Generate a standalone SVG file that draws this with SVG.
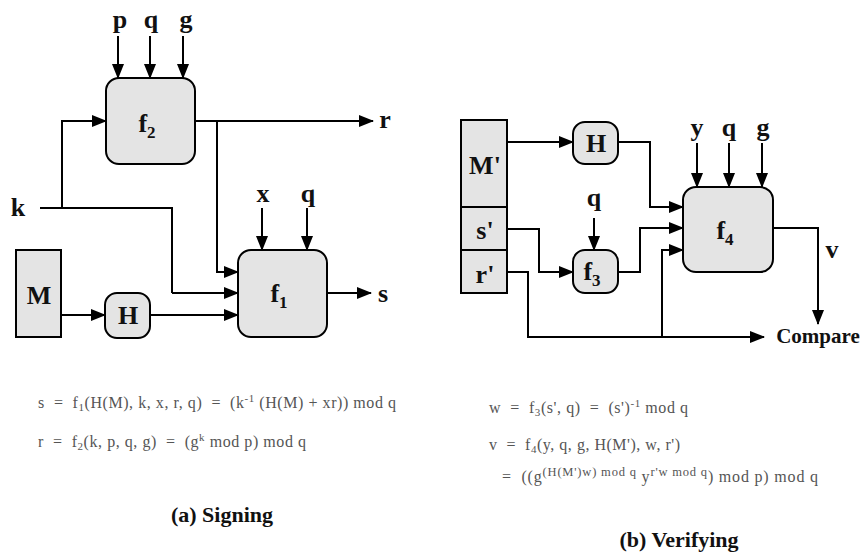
<svg xmlns="http://www.w3.org/2000/svg" width="864" height="552" viewBox="0 0 864 552">
<defs>
<marker id="ah" markerUnits="userSpaceOnUse" markerWidth="15" markerHeight="12" refX="14" refY="6" orient="auto">
<path d="M0,0 L15,6 L0,12 Z" fill="#000"/>
</marker>
<style>
.box{fill:#e4e4e4;stroke:#000;stroke-width:2}
.ln{fill:none;stroke:#000;stroke-width:2}
.ar{fill:none;stroke:#000;stroke-width:2;marker-end:url(#ah)}
.lb{font-family:"Liberation Serif","Times New Roman",serif;font-weight:bold;font-size:26px;fill:#111;text-anchor:middle}
.sb{font-size:17px}
.fm{font-family:"Liberation Serif","Times New Roman",serif;font-size:16px;fill:#555}
.fs{font-size:11px}
.fs2{font-size:12.5px}
.cap{font-family:"Liberation Serif","Times New Roman",serif;font-weight:bold;font-size:22px;fill:#111;text-anchor:middle}
</style>
</defs>
<rect width="864" height="552" fill="#fff"/>

<!-- (a) Signing -->
<g id="f2"><rect class="box" x="106" y="78" width="89" height="86" rx="13"/><text class="lb" x="147" y="132">f<tspan class="sb" dy="6">2</tspan></text></g>
<g id="f1"><rect class="box" x="238" y="250" width="89" height="87" rx="13"/><text class="lb" x="279" y="302">f<tspan class="sb" dy="6">1</tspan></text></g>
<g id="M"><rect class="box" x="16" y="250" width="45" height="87"/><text class="lb" x="39" y="304">M</text></g>
<g id="H1"><rect class="box" x="105" y="293" width="45" height="45" rx="12"/><text class="lb" x="128" y="324">H</text></g>

<g id="labels-a">
<text class="lb" x="120" y="28">p</text>
<text class="lb" x="151" y="28">q</text>
<text class="lb" x="186" y="28">g</text>
<text class="lb" x="18" y="216">k</text>
<text class="lb" x="385" y="128">r</text>
<text class="lb" x="263" y="202">x</text>
<text class="lb" x="308" y="202">q</text>
<text class="lb" x="383" y="302">s</text>
</g>

<g id="connectors">
<path class="ar" d="M118,36 V78"/>
<path class="ar" d="M150,36 V78"/>
<path class="ar" d="M183,36 V78"/>
<path class="ln" d="M40,208 H172 V293"/>
<path class="ar" d="M172,293 H238"/>
<path class="ar" d="M62,208 V121 H106"/>
<path class="ar" d="M195,121 H373"/>
<path class="ar" d="M217,121 V272 H238"/>
<path class="ar" d="M262,208 V250"/>
<path class="ar" d="M307,208 V250"/>
<path class="ar" d="M327,293 H371"/>
<path class="ar" d="M61,315 H105"/>
<path class="ar" d="M150,315 H238"/>

<!-- (b) -->
<path class="ar" d="M507,142 H573"/>
<path class="ar" d="M618,142 H650 V207 H683"/>
<path class="ar" d="M697,143 V187"/>
<path class="ar" d="M729,143 V187"/>
<path class="ar" d="M762,143 V187"/>
<path class="ar" d="M594,218 V250"/>
<path class="ar" d="M507,229 H539 V272 H573"/>
<path class="ar" d="M618,272 H640 V228 H683"/>
<path class="ar" d="M507,272 H528 V337 H764"/>
<path class="ar" d="M662,337 V250 H683"/>
<path class="ar" d="M773,228 H818 V324"/>
</g>

<!-- (b) Verifying -->
<g id="Mp"><rect class="box" x="461" y="120" width="46" height="173"/><line class="ln" x1="461" y1="207" x2="507" y2="207"/><line class="ln" x1="461" y1="250" x2="507" y2="250"/>
<text class="lb" x="485" y="174">M'</text><text class="lb" x="485" y="239">s'</text><text class="lb" x="485" y="283">r'</text></g>
<g id="H2"><rect class="box" x="573" y="122" width="45" height="42" rx="12"/><text class="lb" x="596" y="152">H</text></g>
<g id="f3"><rect class="box" x="573" y="250" width="45" height="43" rx="12"/><text class="lb" x="592" y="280">f<tspan class="sb" dy="6">3</tspan></text></g>
<g id="f4"><rect class="box" x="683" y="187" width="90" height="85" rx="13"/><text class="lb" x="725" y="239">f<tspan class="sb" dy="6">4</tspan></text></g>

<g id="labels-b">
<text class="lb" x="697" y="136">y</text>
<text class="lb" x="729" y="136">q</text>
<text class="lb" x="763" y="136">g</text>
<text class="lb" x="594" y="206">q</text>
<text class="lb" x="832" y="258">v</text>
<text class="lb" x="818" y="343" style="font-size:21px">Compare</text>
</g>

<g id="formulas">
<text class="fm" x="38" y="408" textLength="358" lengthAdjust="spacing" xml:space="preserve">s  =  f<tspan class="fs" dy="3">1</tspan><tspan dy="-3">(H(M), k, x, r, q)  =  (k</tspan><tspan class="fs" dy="-6">-1</tspan><tspan dy="6"> (H(M) + xr)) mod q</tspan></text>
<text class="fm" x="38" y="447" textLength="268" lengthAdjust="spacing" xml:space="preserve">r  =  f<tspan class="fs" dy="3">2</tspan><tspan dy="-3">(k, p, q, g)  =  (g</tspan><tspan class="fs" dy="-6">k</tspan><tspan dy="6"> mod p) mod q</tspan></text>
<text class="cap" x="222" y="522">(a) Signing</text>

<text class="fm" x="489" y="413" textLength="199" lengthAdjust="spacing" xml:space="preserve">w  =  f<tspan class="fs" dy="3">3</tspan><tspan dy="-3">(s', q)  =  (s')</tspan><tspan class="fs" dy="-6">-1</tspan><tspan dy="6"> mod q</tspan></text>
<text class="fm" x="489" y="450" textLength="191" lengthAdjust="spacing" xml:space="preserve">v  =  f<tspan class="fs" dy="3">4</tspan><tspan dy="-3">(y, q, g, H(M'), w, r')</tspan></text>
<text class="fm" x="502" y="482" textLength="316" lengthAdjust="spacing" xml:space="preserve">=  ((g<tspan class="fs2" dy="-6">(H(M')w) mod q</tspan><tspan dy="6"> y</tspan><tspan class="fs2" dy="-6">r'w mod q</tspan><tspan dy="6">) mod p) mod q</tspan></text>
<text class="cap" x="679" y="547">(b) Verifying</text>
</g>
</svg>
